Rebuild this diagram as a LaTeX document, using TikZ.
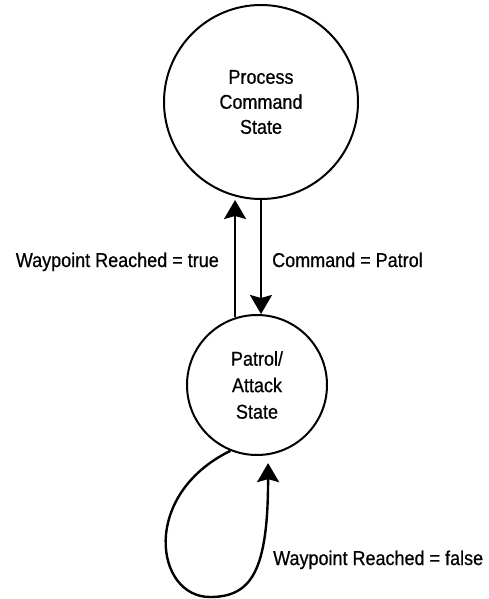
\documentclass[tikz,border=0pt]{standalone}
\usepackage{fontspec}
\setmainfont[FakeStretch=0.9, FakeBold=0.6]{Liberation Sans}
\usetikzlibrary{arrows.meta, calc}
\tikzset{
  statenode/.style={circle, draw=black, line width=2pt, align=center,
    font=\fontsize{20}{25}\selectfont},
  arrow/.style={-{Stealth[length=19pt, width=22pt, inset=3pt]}, line width=2.4pt, color=black},
  translabel/.style={font=\fontsize{20}{22}\selectfont, inner sep=0pt}
}
\begin{document}
\begin{tikzpicture}[x=1pt, y=-1pt]
  \useasboundingbox (0,0) rectangle (489,599);
  % States
  \node[statenode, minimum size=194pt] (process) at (261,102) {Process\\Command\\State};
  \node[statenode, minimum size=140pt, font=\fontsize{20}{26.5}\selectfont] (patrol) at (257,385) {Patrol/\\Attack\\State};

  % Transitions between the two states
  \draw[arrow] (patrol.108) -- (patrol.108 |- process.south);
  \draw[arrow] (process.south) -- (process.south |- patrol.north);
  \node[translabel, anchor=base east] (truelbl) at (219,267) {Waypoint Reached = true};
  \node[translabel, anchor=base west] (cmdlbl) at (272,267) {Command = Patrol};

  % Self loop
  \draw[arrow] (patrol.248) .. controls (140,495) and (155,597) .. (210,597)
    .. controls (252,597) and (268,570) .. ($(patrol.279)+(0,8)$);
  \node[translabel, anchor=base west] (falselbl) at (273,565) {Waypoint Reached = false};
\end{tikzpicture}
\end{document}
